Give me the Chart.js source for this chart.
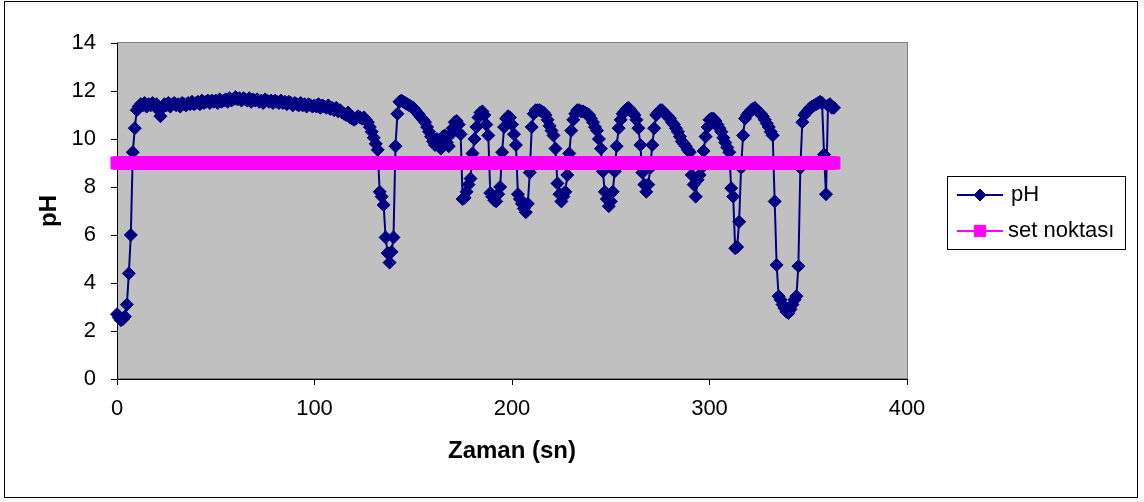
<!DOCTYPE html>
<html>
<head>
<meta charset="utf-8">
<script src="https://cdn.jsdelivr.net/npm/chart.js@4"></script>
<style>
  html, body { margin: 0; padding: 0; background: #ffffff; }
  #wrap { width: 1144px; height: 502px; }
</style>
</head>
<body>
<div id="wrap"><canvas id="chart" width="1144" height="502"></canvas></div>
<script>
// pH reading, one per second (t = 0 .. 363 s)
const phValues = [
  2.7, 2.55, 2.45, 2.5, 2.6, 3.1, 4.4, 6.0, 9.45, 10.45,
  11.2, 11.35, 11.45, 11.4, 11.5, 11.35, 11.45, 11.4, 11.5, 11.4,
  11.45, 11.2, 10.95, 11.3, 11.45, 11.4, 11.5, 11.35, 11.45, 11.5,
  11.4, 11.45, 11.35, 11.5, 11.45, 11.4, 11.5, 11.45, 11.55, 11.45,
  11.5, 11.55, 11.45, 11.6, 11.5, 11.55, 11.6, 11.5, 11.6, 11.55,
  11.6, 11.5, 11.65, 11.55, 11.6, 11.65, 11.55, 11.7, 11.6, 11.65,
  11.75, 11.65, 11.7, 11.6, 11.7, 11.65, 11.6, 11.7, 11.55, 11.65,
  11.6, 11.65, 11.55, 11.6, 11.5, 11.65, 11.6, 11.55, 11.6, 11.5,
  11.6, 11.55, 11.5, 11.6, 11.5, 11.55, 11.45, 11.55, 11.5, 11.4,
  11.5, 11.45, 11.4, 11.5, 11.4, 11.45, 11.35, 11.45, 11.4, 11.35,
  11.4, 11.35, 11.45, 11.3, 11.4, 11.35, 11.3, 11.4, 11.25, 11.3,
  11.2, 11.3, 11.15, 11.2, 11.1, 11.05, 11.0, 11.1, 10.9, 10.85,
  10.8, 10.85, 10.95, 10.9, 10.85, 10.9, 10.8, 10.7, 10.5, 10.3,
  10.05, 9.8, 9.55, 7.8, 7.6, 7.25, 5.9, 5.25, 4.85, 5.3,
  5.9, 9.7, 11.05, 11.55, 11.6, 11.55, 11.5, 11.45, 11.4, 11.35,
  11.3, 11.2, 11.1, 11.0, 10.9, 10.8, 10.7, 10.5, 10.3, 10.1,
  9.9, 9.75, 10.0, 9.7, 9.6, 10.1, 10.15, 9.85, 9.7, 10.2,
  10.45, 10.7, 10.75, 10.6, 10.2, 7.5, 7.55, 7.8, 8.1, 8.35,
  9.4, 10.0, 10.5, 10.9, 11.1, 11.15, 11.0, 10.6, 10.15, 7.75,
  7.6, 7.45, 7.4, 7.7, 8.0, 9.45, 10.5, 10.85, 10.95, 10.9,
  10.6, 10.2, 9.75, 7.7, 7.5, 7.3, 7.1, 6.95, 7.3, 8.6,
  10.5, 11.05, 11.2, 11.2, 11.2, 11.15, 11.1, 11.0, 10.8, 10.55,
  10.35, 10.15, 9.6, 8.15, 7.7, 7.4, 7.6, 7.8, 8.5, 9.4,
  10.35, 10.8, 11.05, 11.2, 11.2, 11.15, 11.15, 11.1, 11.05, 11.0,
  10.85, 10.7, 10.5, 10.35, 10.0, 9.6, 8.65, 7.8, 7.5, 7.2,
  7.4, 7.8, 8.65, 9.7, 10.45, 10.8, 11.05, 11.15, 11.25, 11.3,
  11.2, 11.1, 11.0, 10.8, 10.45, 9.75, 8.6, 8.1, 7.8, 8.1,
  8.8, 9.75, 10.45, 11.0, 11.1, 11.2, 11.2, 11.1, 11.0, 10.95,
  10.85, 10.7, 10.6, 10.45, 10.3, 10.1, 9.9, 9.8, 9.7, 9.55,
  9.45, 8.5, 8.1, 7.6, 8.3, 8.5, 8.8, 9.5, 10.1, 10.5,
  10.8, 10.85, 10.85, 10.75, 10.6, 10.45, 10.3, 10.05, 9.85, 9.65,
  9.45, 7.95, 7.6, 5.45, 5.5, 6.55, 8.8, 10.15, 10.85, 11.0,
  11.1, 11.2, 11.25, 11.3, 11.2, 11.1, 11.05, 10.95, 10.8, 10.65,
  10.5, 10.3, 10.15, 7.4, 4.75, 3.45, 3.3, 3.1, 2.95, 2.8,
  2.75, 2.9, 3.1, 3.3, 3.45, 4.7, 8.8, 10.7, 11.0, 11.1,
  11.2, 11.3, 11.35, 11.4, 11.45, 11.5, 11.55, 11.5, 9.35, 7.7,
  11.4, 11.45, 11.3, 11.3
];
const setPoint = 9;
const xTicks = [0, 100, 200, 300, 400];
const yTicks = [0, 2, 4, 6, 8, 10, 12, 14];
const seriesNames = ['pH', 'set noktası'];

const seconds = phValues.map((_, i) => i);
const FONT = "'Liberation Sans', Arial, Helvetica, sans-serif";

Chart.defaults.font.family = FONT;
Chart.defaults.font.size = 22;
Chart.defaults.color = '#000000';

const framePlugin = {
  id: 'frame',
  beforeDraw(chart) {
    const { ctx, chartArea: a, width, height } = chart;
    ctx.save();
    ctx.fillStyle = '#ffffff';
    ctx.fillRect(0, 0, width, height);
    ctx.fillStyle = '#c0c0c0';
    ctx.fillRect(a.left, a.top, a.right - a.left, a.bottom - a.top);
    ctx.strokeStyle = '#808080';
    ctx.lineWidth = 1;
    ctx.strokeRect(a.left + 0.5, a.top - 0.5, a.right - a.left, a.bottom - a.top);
    ctx.strokeStyle = '#000000';
    ctx.strokeRect(4.5, 1.5, 1133, 496);
    ctx.restore();
  }
};

// excel style legend: line + marker, inside a framed box
const sideLegend = {
  id: 'sideLegend',
  afterDraw(chart) {
    const ctx = chart.ctx;
    const rowsY = [195, 231];
    const textX = [1011, 1008];
    ctx.save();
    ctx.strokeStyle = '#000000';
    ctx.lineWidth = 1;
    ctx.strokeRect(947.5, 176.5, 178, 73);
    chart.data.datasets.forEach((ds, i) => {
      const y = rowsY[i];
      ctx.strokeStyle = ds.borderColor;
      ctx.lineWidth = 2;
      ctx.beginPath();
      ctx.moveTo(957, y);
      ctx.lineTo(1003, y);
      ctx.stroke();
      ctx.fillStyle = ds.pointBackgroundColor;
      ctx.strokeStyle = ds.pointBorderColor;
      ctx.lineWidth = 1;
      Chart.helpers.drawPoint(ctx, {
        pointStyle: ds.pointStyle,
        radius: ds.pointStyle === 'rect' ? 8 : 6,
        borderWidth: 1,
        rotation: 0
      }, 980, y);
      ctx.fillStyle = '#000000';
      ctx.font = '22px ' + FONT;
      ctx.textBaseline = 'middle';
      ctx.textAlign = 'left';
      ctx.fillText(ds.label, textX[i], y);
    });
    ctx.restore();
  }
};

const axisLine = { display: true, color: '#000000', width: 1 };
const axisGrid = {
  display: true,
  drawOnChartArea: false,
  drawTicks: true,
  tickLength: 6,
  tickColor: '#000000',
  color: '#000000'
};

new Chart(document.getElementById('chart'), {
  type: 'line',
  data: {
    datasets: [
      {
        label: seriesNames[0],
        data: seconds.map((t, i) => ({ x: t, y: phValues[i] })),
        borderColor: '#000080',
        backgroundColor: '#000080',
        borderWidth: 2,
        pointStyle: 'rectRot',
        pointRadius: 6.5,
        pointBackgroundColor: '#000080',
        pointBorderColor: '#000080',
        pointBorderWidth: 1,
        tension: 0,
        clip: false,
        order: 1
      },
      {
        label: seriesNames[1],
        data: seconds.map(t => ({ x: t, y: setPoint })),
        borderColor: '#ff00ff',
        backgroundColor: '#ff00ff',
        borderWidth: 2,
        pointStyle: 'rect',
        pointRadius: 8.5,
        pointBackgroundColor: '#ff00ff',
        pointBorderColor: '#ff00ff',
        pointBorderWidth: 1,
        tension: 0,
        clip: false,
        order: 0
      }
    ]
  },
  options: {
    responsive: false,
    animation: false,
    devicePixelRatio: 1,
    events: [],
    layout: { padding: { left: 32, right: 237, top: 43, bottom: 36 } },
    plugins: {
      legend: { display: false },
      tooltip: { enabled: false }
    },
    scales: {
      x: {
        type: 'linear',
        min: xTicks[0],
        max: xTicks[xTicks.length - 1],
        ticks: { stepSize: xTicks[1] - xTicks[0], padding: 11, color: '#000000', font: { size: 22 } },
        grid: axisGrid,
        border: axisLine,
        title: { display: true, text: 'Zaman (sn)', font: { size: 24, weight: 'bold' }, padding: { top: 0, bottom: 0 } },
        afterFit(scale) { scale.height = 87; }
      },
      y: {
        type: 'linear',
        min: yTicks[0],
        max: yTicks[yTicks.length - 1],
        ticks: { stepSize: yTicks[1] - yTicks[0], padding: 15, color: '#000000', font: { size: 22 } },
        grid: axisGrid,
        border: axisLine,
        title: { display: true, text: 'pH', font: { size: 24, weight: 'bold' }, padding: { top: 3, bottom: 0 } },
        afterFit(scale) { scale.width = 85; }
      }
    }
  },
  plugins: [framePlugin, sideLegend]
});
</script>
</body>
</html>
